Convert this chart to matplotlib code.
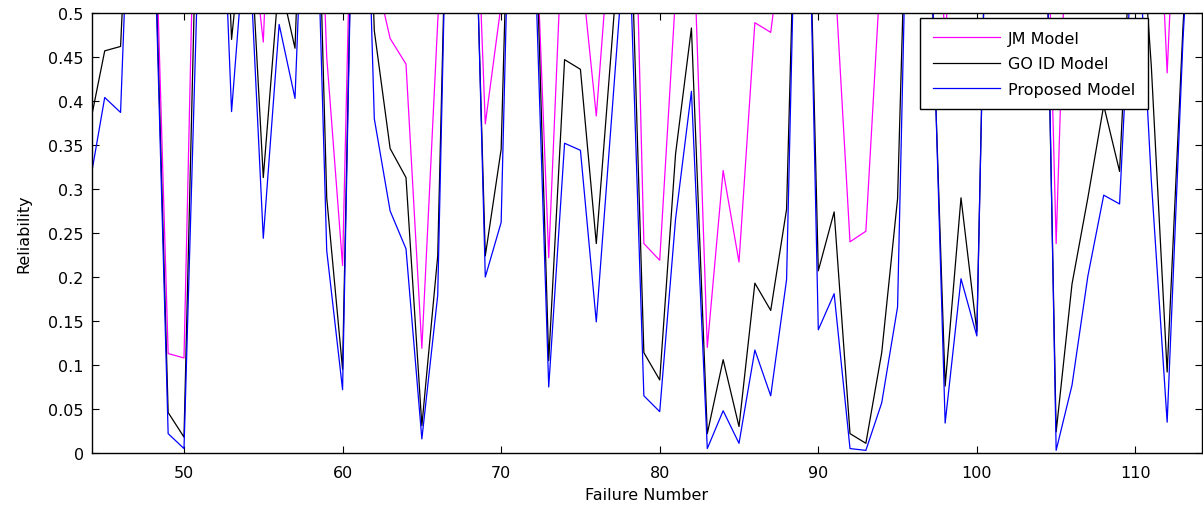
#!/usr/bin/env python3
"""
plot_reliability.py - Compare reliability estimates of the three models per failure number
"""

import matplotlib
matplotlib.use("Agg")
import matplotlib.pyplot as plt
from matplotlib.ticker import FuncFormatter

# failure numbers 44..114
failure_no = list(range(44, 115))

jm_model = [
    0.80, 0.80, 0.80, 0.95, 0.73, 0.113, 0.108, 0.92, 0.90, 0.90,   # 44-53
    0.63, 0.467, 0.90, 0.90, 0.95, 0.45, 0.213, 1.00, 0.55, 0.471,  # 54-63
    0.442, 0.119, 0.49, 0.80, 0.85, 0.374, 0.51, 0.90, 0.69, 0.222, # 64-73
    0.65, 0.56, 0.383, 0.62, 0.97, 0.238, 0.219, 0.52, 0.66, 0.12,  # 74-83
    0.321, 0.217, 0.489, 0.478, 0.62, 0.90, 0.90, 0.557, 0.24, 0.252, # 84-93
    0.57, 0.90, 0.90, 0.95, 0.45, 0.95, 0.90, 0.90, 0.90, 0.90,     # 94-103
    0.95, 0.238, 0.815, 0.90, 0.90, 0.90, 0.90, 0.83, 0.432, 0.83,  # 104-113
    0.80,                                                           # 114
]

go_id_model = [
    0.367, 0.457, 0.462, 0.85, 0.69, 0.046, 0.018, 0.78, 0.90, 0.47,  # 44-53
    0.65, 0.313, 0.54, 0.46, 0.955, 0.29, 0.095, 1.00, 0.48, 0.346,   # 54-63
    0.313, 0.031, 0.224, 0.98, 0.86, 0.224, 0.345, 1.00, 0.71, 0.105, # 64-73
    0.447, 0.436, 0.238, 0.47, 0.71, 0.114, 0.083, 0.34, 0.483, 0.022, # 74-83
    0.106, 0.03, 0.193, 0.162, 0.277, 0.95, 0.207, 0.274, 0.022, 0.011, # 84-93
    0.114, 0.289, 0.93, 0.62, 0.076, 0.29, 0.138, 1.00, 0.95, 0.95,   # 94-103
    0.95, 0.024, 0.192, 0.29, 0.395, 0.32, 0.70, 0.44, 0.092, 0.485,  # 104-113
    0.80,                                                             # 114
]

proposed_model = [
    0.30, 0.404, 0.387, 0.87, 0.68, 0.022, 0.005, 0.63, 0.84, 0.388,   # 44-53
    0.62, 0.244, 0.487, 0.403, 0.87, 0.23, 0.072, 1.00, 0.38, 0.275,   # 54-63
    0.232, 0.016, 0.179, 1.00, 0.89, 0.20, 0.262, 1.00, 0.64, 0.075,   # 64-73
    0.352, 0.344, 0.149, 0.389, 0.63, 0.065, 0.047, 0.266, 0.411, 0.005, # 74-83
    0.048, 0.011, 0.117, 0.065, 0.197, 0.99, 0.14, 0.181, 0.005, 0.003,  # 84-93
    0.057, 0.166, 0.98, 0.65, 0.034, 0.198, 0.133, 1.00, 0.95, 0.95,   # 94-103
    1.00, 0.003, 0.077, 0.201, 0.293, 0.283, 0.65, 0.31, 0.035, 0.47,  # 104-113
    0.80,                                                              # 114
]

x_ticks = [50, 60, 70, 80, 90, 100, 110]
y_ticks = [0, 0.05, 0.1, 0.15, 0.2, 0.25, 0.3, 0.35, 0.4, 0.45, 0.5]


def plot_reliability():
    plt.rcParams["font.family"] = ["DejaVu Sans"]
    fs = 11.5

    fig = plt.figure(figsize=(12.03, 5.06), dpi=100)
    ax = fig.add_axes([0.0765, 0.1028, 0.9227, 0.8695])

    ax.plot(failure_no, jm_model, color="#ff00ff", linewidth=0.9, label="JM Model")
    ax.plot(failure_no, go_id_model, color="black", linewidth=0.9, label="GO ID Model")
    ax.plot(failure_no, proposed_model, color="#0000ff", linewidth=0.9, label="Proposed Model")

    ax.set_xlim(44.2, 114.2)
    ax.set_ylim(0, 0.5)
    ax.set_xticks(x_ticks)
    ax.set_yticks(y_ticks)
    ax.yaxis.set_major_formatter(FuncFormatter(lambda v, _: f"{v:g}"))
    ax.tick_params(direction="in", length=5, width=0.8,
                   top=True, right=True, labelsize=fs)
    ax.tick_params(axis="x", pad=9)
    ax.tick_params(axis="y", pad=6)

    for side in ax.spines.values():
        side.set_linewidth(1.0)

    ax.set_xlabel("Failure Number", fontsize=fs, labelpad=5)
    ax.set_ylabel("Reliability", fontsize=fs, labelpad=12)

    leg = ax.legend(loc="upper right", bbox_to_anchor=(0.951, 0.989),
                    fancybox=False, framealpha=1, edgecolor="black",
                    handlelength=4.2, handletextpad=0.5, labelspacing=0.66,
                    borderpad=0.8, borderaxespad=0, fontsize=fs)
    leg.get_frame().set_linewidth(1.0)

    fig.savefig("out.png", dpi=100)
    print("[*] Saved plot to out.png")


def main():
    plot_reliability()


if __name__ == "__main__":
    main()
